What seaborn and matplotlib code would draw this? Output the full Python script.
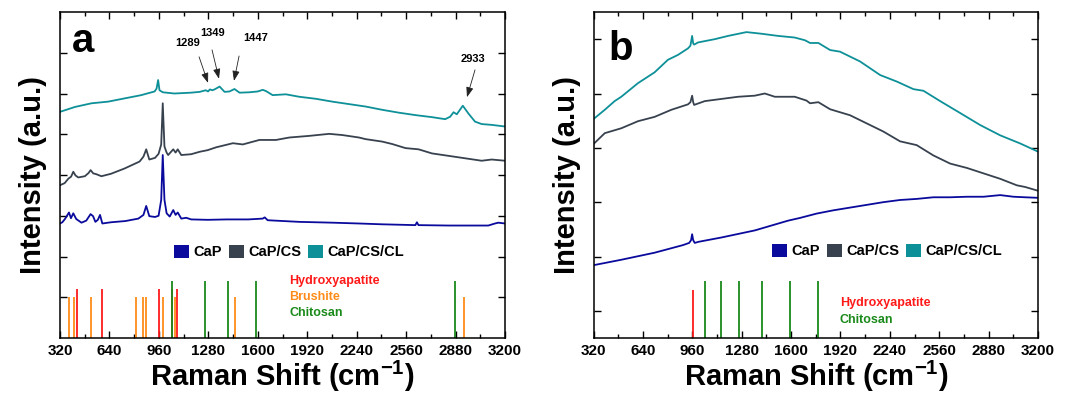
import matplotlib
matplotlib.use("Agg")
import matplotlib.pyplot as plt
from matplotlib.patches import Patch
from matplotlib.ticker import MultipleLocator
import seaborn as sns

# ---- panel a: spectra (offset, arbitrary units) ----
a_cap_x = [320, 335, 352, 378, 391, 406, 425, 459, 490, 518, 534, 549, 565, 579, 594,
           650, 743, 827, 860, 878, 898, 935, 958, 975, 985, 996, 1010, 1030, 1053,
           1068, 1082, 1105, 1137, 1169, 1276, 1400, 1539, 1632, 1645, 1664, 1868,
           2083, 2255, 2405, 2620, 2630, 2640, 2835, 3092, 3135, 3157, 3200]
a_cap_y = [2.81, 2.84, 2.92, 3.08, 2.94, 3.06, 2.92, 2.83, 2.88, 3.04, 2.99, 2.85, 2.90,
           3.02, 2.81, 2.84, 2.87, 2.93, 3.02, 3.24, 2.99, 2.97, 3.00, 3.39, 4.49, 3.39,
           3.06, 2.98, 3.14, 3.02, 3.08, 2.93, 2.95, 2.91, 2.90, 2.91, 2.91, 2.93, 2.96,
           2.89, 2.85, 2.83, 2.81, 2.79, 2.77, 2.84, 2.77, 2.76, 2.76, 2.81, 2.83, 2.81]

a_cs_x = [320, 350, 374, 392, 406, 420, 438, 481, 505, 518, 535, 555, 588, 650, 738,
          835, 860, 878, 898, 935, 958, 975, 985, 996, 1010, 1020, 1053, 1068, 1082,
          1105, 1169, 1224, 1276, 1331, 1439, 1503, 1610, 1718, 1804, 1933, 2062, 2148,
          2255, 2298, 2405, 2470, 2556, 2641, 2727, 2835, 2942, 3049, 3114, 3200]
a_cs_y = [3.75, 3.80, 3.91, 3.96, 4.08, 3.99, 3.94, 3.97, 4.05, 4.12, 4.04, 4.02, 3.97,
          4.03, 4.16, 4.33, 4.45, 4.63, 4.38, 4.42, 4.52, 4.75, 5.76, 4.70, 4.55, 4.49,
          4.63, 4.55, 4.63, 4.49, 4.51, 4.57, 4.61, 4.68, 4.78, 4.75, 4.86, 4.86, 4.92,
          4.96, 5.01, 4.98, 4.92, 4.88, 4.82, 4.76, 4.66, 4.63, 4.53, 4.47, 4.41, 4.35,
          4.38, 4.35]

a_cl_x = [320, 417, 524, 631, 738, 846, 932, 945, 955, 964, 985, 1060, 1167, 1224, 1263,
          1278, 1290, 1306, 1320, 1353, 1385, 1417, 1449, 1482, 1546, 1600, 1632, 1653,
          1696, 1782, 1868, 1976, 2083, 2190, 2298, 2405, 2512, 2620, 2727, 2813, 2845,
          2867, 2888, 2927, 2963, 3006, 3049, 3114, 3200]
a_cl_y = [5.55, 5.67, 5.76, 5.80, 5.88, 5.96, 6.05, 6.12, 6.33, 6.08, 6.03, 6.00, 6.02,
          6.04, 6.08, 6.05, 6.10, 6.08, 6.10, 6.17, 6.04, 6.05, 6.11, 6.02, 6.03, 6.05,
          6.09, 6.06, 5.96, 5.98, 5.92, 5.87, 5.80, 5.74, 5.68, 5.60, 5.53, 5.47, 5.42,
          5.37, 5.43, 5.54, 5.49, 5.70, 5.51, 5.31, 5.25, 5.23, 5.19]

# reference bands, panel a
a_ha_peaks = [428, 590, 962, 1048, 1077]
a_brushite_peaks = [378, 412, 522, 814, 855, 878, 988, 1062, 1450, 2935]
a_chitosan_peaks = [1045, 1260, 1405, 1587, 2878]
a_ha_height = 1.2
a_brushite_height = 1.0
a_chitosan_height = 1.4

# ---- panel b ----
b_cap_x = [320, 500, 716, 900, 940, 952, 959, 966, 976, 1000, 1149, 1365, 1581, 1658,
           1766, 1874, 1982, 2090, 2198, 2306, 2414, 2522, 2631, 2739, 2847, 2955, 3041,
           3116, 3200]
b_cap_y = [0.84, 0.94, 1.07, 1.21, 1.25, 1.30, 1.41, 1.30, 1.25, 1.27, 1.35, 1.48, 1.66,
           1.71, 1.79, 1.85, 1.90, 1.95, 2.00, 2.04, 2.06, 2.09, 2.09, 2.10, 2.10, 2.13,
           2.10, 2.09, 2.08]

b_cs_x = [320, 393, 500, 608, 716, 824, 932, 948, 959, 966, 972, 1041, 1149, 1257, 1365,
          1430, 1495, 1624, 1700, 1723, 1777, 1853, 1982, 2090, 2198, 2306, 2414, 2522,
          2631, 2739, 2847, 2955, 3063, 3116, 3200]
b_cs_y = [3.07, 3.27, 3.36, 3.49, 3.57, 3.70, 3.80, 3.84, 3.96, 3.84, 3.79, 3.86, 3.90,
          3.94, 3.96, 4.00, 3.94, 3.94, 3.87, 3.82, 3.84, 3.71, 3.60, 3.45, 3.30, 3.12,
          3.05, 2.86, 2.71, 2.63, 2.53, 2.43, 2.31, 2.28, 2.21]

b_cl_x = [320, 393, 457, 500, 608, 716, 802, 867, 932, 948, 959, 966, 972, 998, 1106,
          1192, 1311, 1408, 1516, 1624, 1690, 1723, 1777, 1853, 1917, 2047, 2177, 2285,
          2393, 2458, 2566, 2696, 2825, 2955, 3085, 3200]
b_cl_y = [3.53, 3.70, 3.86, 3.94, 4.19, 4.39, 4.62, 4.71, 4.83, 4.88, 5.06, 4.92, 4.90,
          4.94, 5.00, 5.06, 5.13, 5.10, 5.06, 5.03, 4.98, 4.93, 4.93, 4.80, 4.77, 4.59,
          4.34, 4.22, 4.08, 4.05, 3.86, 3.64, 3.42, 3.23, 3.08, 2.93]

b_ha_peaks = [965]
b_chitosan_peaks = [1042, 1146, 1263, 1412, 1591, 1777]
b_ha_top = 0.38
b_chitosan_top = 0.54

sample_names = ["CaP", "CaP/CS", "CaP/CS/CL"]
peak_labels = ["1289", "1349", "1447", "2933"]

# colours
C_CAP = "#0a0a9c"
C_CS = "#38424f"
C_CL = "#0e9098"
C_HA = "#ff1a1a"
C_BR = "#ff8c1a"
C_CH = "#1a8a1a"

sns.set_theme(style="ticks")
plt.rcParams["font.family"] = ["Liberation Sans", "DejaVu Sans"]
plt.rcParams["font.weight"] = "bold"
plt.rcParams["axes.labelweight"] = "bold"
plt.rcParams["text.color"] = "black"
plt.rcParams["axes.labelcolor"] = "black"
plt.rcParams["xtick.color"] = "black"
plt.rcParams["ytick.color"] = "black"
plt.rcParams["mathtext.fontset"] = "custom"
plt.rcParams["mathtext.rm"] = "Liberation Sans:bold"
plt.rcParams["mathtext.bf"] = "Liberation Sans:bold"
plt.rcParams["mathtext.it"] = "Liberation Sans:bold"

fig = plt.figure(figsize=(10.7, 3.96), dpi=100)
ax_a = fig.add_axes([60 / 1070, 58 / 396, 445 / 1070, 326 / 396])
ax_b = fig.add_axes([593.5 / 1070, 58 / 396, 444.5 / 1070, 326 / 396])


def style_axes(ax, ylim, yticks):
    ax.set_xlim(320, 3200)
    ax.set_ylim(*ylim)
    ax.xaxis.set_major_locator(MultipleLocator(320))
    ax.xaxis.set_minor_locator(MultipleLocator(160))
    ax.set_yticks(yticks)
    ax.set_yticklabels([])
    ax.tick_params(which="both", direction="in", top=True, right=True,
                   width=1.0, color="black")
    ax.tick_params(which="major", length=5, labelsize=11, pad=4)
    ax.tick_params(which="minor", length=3)
    for lab in ax.get_xticklabels():
        lab.set_fontweight("bold")
    for sp in ax.spines.values():
        sp.set_linewidth(1.1)
        sp.set_color("black")
    ax.set_xlabel(r"Raman Shift (cm$^{-1}$)", fontsize=21, fontweight="bold", labelpad=1)
    ax.set_ylabel("Intensity (a.u.)", fontsize=21, fontweight="bold", labelpad=5)


def draw_curves(ax, series):
    for x, y, c in series:
        sns.lineplot(x=x, y=y, color=c, lw=1.3, estimator=None, sort=False, ax=ax)


def add_legend(ax, anchor):
    handles = [Patch(facecolor=c, edgecolor="none") for c in (C_CAP, C_CS, C_CL)]
    ax.legend(handles, sample_names, loc="center", bbox_to_anchor=anchor, ncol=3,
              frameon=False, handlelength=1.05, handleheight=1.05, handletextpad=0.3,
              columnspacing=0.45, borderpad=0, prop={"size": 10.5, "weight": "bold"})


# ---- panel a ----
draw_curves(ax_a, [(a_cap_x, a_cap_y, C_CAP), (a_cs_x, a_cs_y, C_CS), (a_cl_x, a_cl_y, C_CL)])
ax_a.vlines(a_brushite_peaks, 0, a_brushite_height, color=C_BR, lw=1.3)
ax_a.vlines(a_ha_peaks, 0, a_ha_height, color=C_HA, lw=1.3)
ax_a.vlines(a_chitosan_peaks, 0, a_chitosan_height, color=C_CH, lw=1.3)
style_axes(ax_a, (0, 8), range(1, 8))
ax_a.text(1804, 1.40, "Hydroxyapatite", color=C_HA, fontsize=9, fontweight="bold", va="center")
ax_a.text(1804, 1.01, "Brushite", color=C_BR, fontsize=9, fontweight="bold", va="center")
ax_a.text(1804, 0.61, "Chitosan", color=C_CH, fontsize=9, fontweight="bold", va="center")
ax_a.text(0.027, 0.877, "a", transform=ax_a.transAxes, fontsize=29, fontweight="bold",
          va="baseline")

text_pos = [(1148, 7.24), (1310, 7.48), (1589, 7.36), (2993, 6.85)]
tails = [(1220, 6.90), (1304, 7.07), (1479, 6.92), (3006, 6.58)]
tips = [(1278, 6.26), (1349, 6.36), (1446, 6.31), (2954, 5.91)]
for lab, tp, tl, tip in zip(peak_labels, text_pos, tails, tips):
    ax_a.text(tp[0], tp[1], lab, fontsize=8, fontweight="bold", ha="center", va="center")
    ax_a.annotate("", xy=tip, xytext=tl,
                  arrowprops=dict(arrowstyle="-|>,head_length=0.5,head_width=0.18",
                                  color="#222222", lw=0.6, shrinkA=0, shrinkB=0))
add_legend(ax_a, (0.515, 0.264))

# ---- panel b ----
draw_curves(ax_b, [(b_cap_x, b_cap_y, C_CAP), (b_cs_x, b_cs_y, C_CS), (b_cl_x, b_cl_y, C_CL)])
ax_b.vlines(b_ha_peaks, -0.5, b_ha_top, color=C_HA, lw=1.3)
ax_b.vlines(b_chitosan_peaks, -0.5, b_chitosan_top, color=C_CH, lw=1.3)
style_axes(ax_b, (-0.5, 5.5), range(0, 6))
ax_b.text(1917, 0.14, "Hydroxyapatite", color=C_HA, fontsize=9, fontweight="bold", va="center")
ax_b.text(1917, -0.16, "Chitosan", color=C_CH, fontsize=9, fontweight="bold", va="center")
ax_b.text(0.033, 0.853, "b", transform=ax_b.transAxes, fontsize=29, fontweight="bold",
          va="baseline")
add_legend(ax_b, (0.661, 0.267))

fig.savefig("out.png", dpi=100)
